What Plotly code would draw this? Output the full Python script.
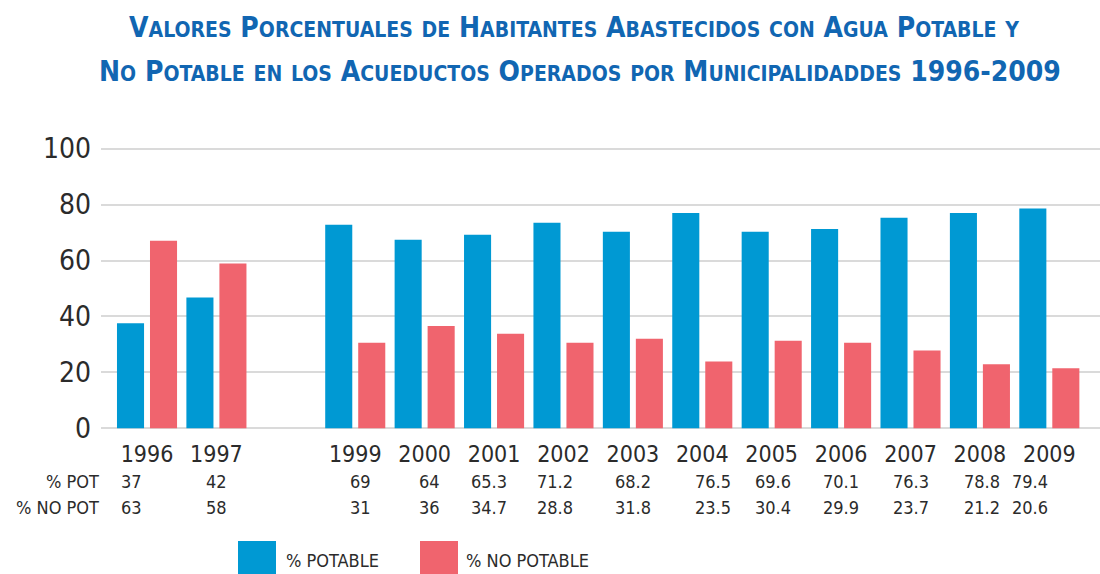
import plotly.graph_objects as go

# ---------------- data ----------------
YEARS = [1996, 1997, 1999, 2000, 2001, 2002, 2003, 2004, 2005, 2006, 2007, 2008, 2009]
POTABLE = [37.6, 46.8, 72.8, 67.4, 69.2, 73.5, 70.3, 77.0, 70.3, 71.3, 75.3, 77.0, 78.6]
NO_POTABLE = [67.1, 58.9, 30.6, 36.6, 33.8, 30.6, 32.0, 23.9, 31.3, 30.6, 27.8, 22.9, 21.5]
TICK_LABELS = ["1996", "1997", "1999", "2000", "2001", "2002", "2003",
               "2004", "2005", "2006", "2007", "2008", "2009"]
TABLE_POT = ["37", "42", "69", "64", "65.3", "71.2", "68.2", "76.5", "69.6", "70.1", "76.3", "78.8", "79.4"]
TABLE_NOPOT = ["63", "58", "31", "36", "34.7", "28.8", "31.8", "23.5", "30.4", "29.9", "23.7", "21.2", "20.6"]
ROW_LABELS = ["% POT", "% NO POT"]
SERIES_NAMES = ["% POTABLE", "% NO POTABLE"]
TITLE_LINES = [
    "Valores Porcentuales de Habitantes Abastecidos con Agua Potable y",
    "No Potable en los Acueductos Operados por Municipalidaddes 1996-2009",
]
Y_TICKS = [0, 20, 40, 60, 80, 100]

# ---------------- style / layout constants ----------------
W, H = 1100, 574
ML, MR, MT, MB = 101, 0, 147, 144
BLUE = "#0099D3"
RED = "#F0646E"
TITLE_BLUE = "#1166B2"
TXT = "#2b2b2b"
FONT = "'Liberation Sans Narrow', 'DejaVu Sans Condensed', 'Arial Narrow', sans-serif"
# small horizontal nudges (in category slots) of table values, as laid out in the source
TABLE_NUDGE = [-0.22, 0.0, 0.08, 0.07, -0.08, -0.12, 0.0, 0.15, 0.02, 0.0, 0.0, 0.03, -0.28]

PW = W - ML - MR
PH = H - MT - MB


def px_x(px):
    return (px - ML) / PW


def px_y(py):
    return (H - MB - py) / PH


def small_caps(text, big, small):
    out = []
    for ch in text:
        if ch.islower():
            out.append(f"<span style='font-size:{small}px'>{ch.upper()}</span>")
        else:
            out.append(ch)
    return f"<span style='font-size:{big}px'>" + "".join(out) + "</span>"


fig = go.Figure()
fig.add_trace(go.Bar(x=YEARS, y=POTABLE, name=SERIES_NAMES[0], marker=dict(color=BLUE, line=dict(width=0))))
fig.add_trace(go.Bar(x=YEARS, y=NO_POTABLE, name=SERIES_NAMES[1], marker=dict(color=RED, line=dict(width=0))))

annotations = []
# title
for i, line in enumerate(TITLE_LINES):
    annotations.append(dict(
        text=small_caps(line, 28, 21), xref="paper", yref="paper",
        x=px_x([574, 580][i]), y=px_y([28, 72][i]), xanchor="center", yanchor="middle",
        showarrow=False, font=dict(family=FONT, color=TITLE_BLUE, size=28, weight="bold"),
    ))
# table row labels
for lbl, py in zip(ROW_LABELS, [481, 507]):
    annotations.append(dict(text=lbl, xref="paper", yref="paper", x=0, y=px_y(py),
                            xanchor="right", yanchor="middle", showarrow=False,
                            font=dict(family=FONT, color=TXT, size=18)))
# table values
for yr, a, b, nd in zip(YEARS, TABLE_POT, TABLE_NOPOT, TABLE_NUDGE):
    for val, py in ((a, 481), (b, 507)):
        annotations.append(dict(text=val, xref="x", yref="paper", x=yr + nd, y=px_y(py),
                                xanchor="center", yanchor="middle", showarrow=False,
                                font=dict(family=FONT, color=TXT, size=18)))
# legend
shapes = []
for name, col, x0, tx in ((SERIES_NAMES[0], BLUE, 238, 284), (SERIES_NAMES[1], RED, 420, 464)):
    shapes.append(dict(type="rect", xref="paper", yref="paper", x0=px_x(x0), x1=px_x(x0 + 38),
                       y0=px_y(541), y1=px_y(590), fillcolor=col, line=dict(width=0), layer="above"))
    annotations.append(dict(text=name, xref="paper", yref="paper", x=px_x(tx), y=px_y(560),
                            xanchor="left", yanchor="middle", showarrow=False,
                            font=dict(family=FONT, color=TXT, size=18)))

fig.update_layout(
    width=W, height=H,
    margin=dict(l=ML, r=MR, t=MT, b=MB, pad=0),
    paper_bgcolor="white", plot_bgcolor="white",
    barmode="group", bargap=0.049, bargroupgap=0.18,
    showlegend=False,
    annotations=annotations, shapes=shapes,
    font=dict(family=FONT, color=TXT),
)
fig.update_xaxes(range=[1995.337, 2009.73], tickmode="array", tickvals=YEARS, ticktext=TICK_LABELS,
                 showgrid=False, zeroline=False, showline=False, ticks="",
                 tickfont=dict(family=FONT, size=23, color=TXT), ticklabelstandoff=8)
fig.update_yaxes(range=[-0.6, 100.6], tickmode="array", tickvals=Y_TICKS,
                 showgrid=True, gridcolor="#DADADA", gridwidth=2, zeroline=False, showline=False,
                 ticks="", tickfont=dict(family=FONT, size=28, color=TXT), ticklabelstandoff=9)

fig.write_html("out.html", config={"displayModeBar": False},
               post_script="document.body.style.margin='0';document.body.style.overflow='hidden';")
